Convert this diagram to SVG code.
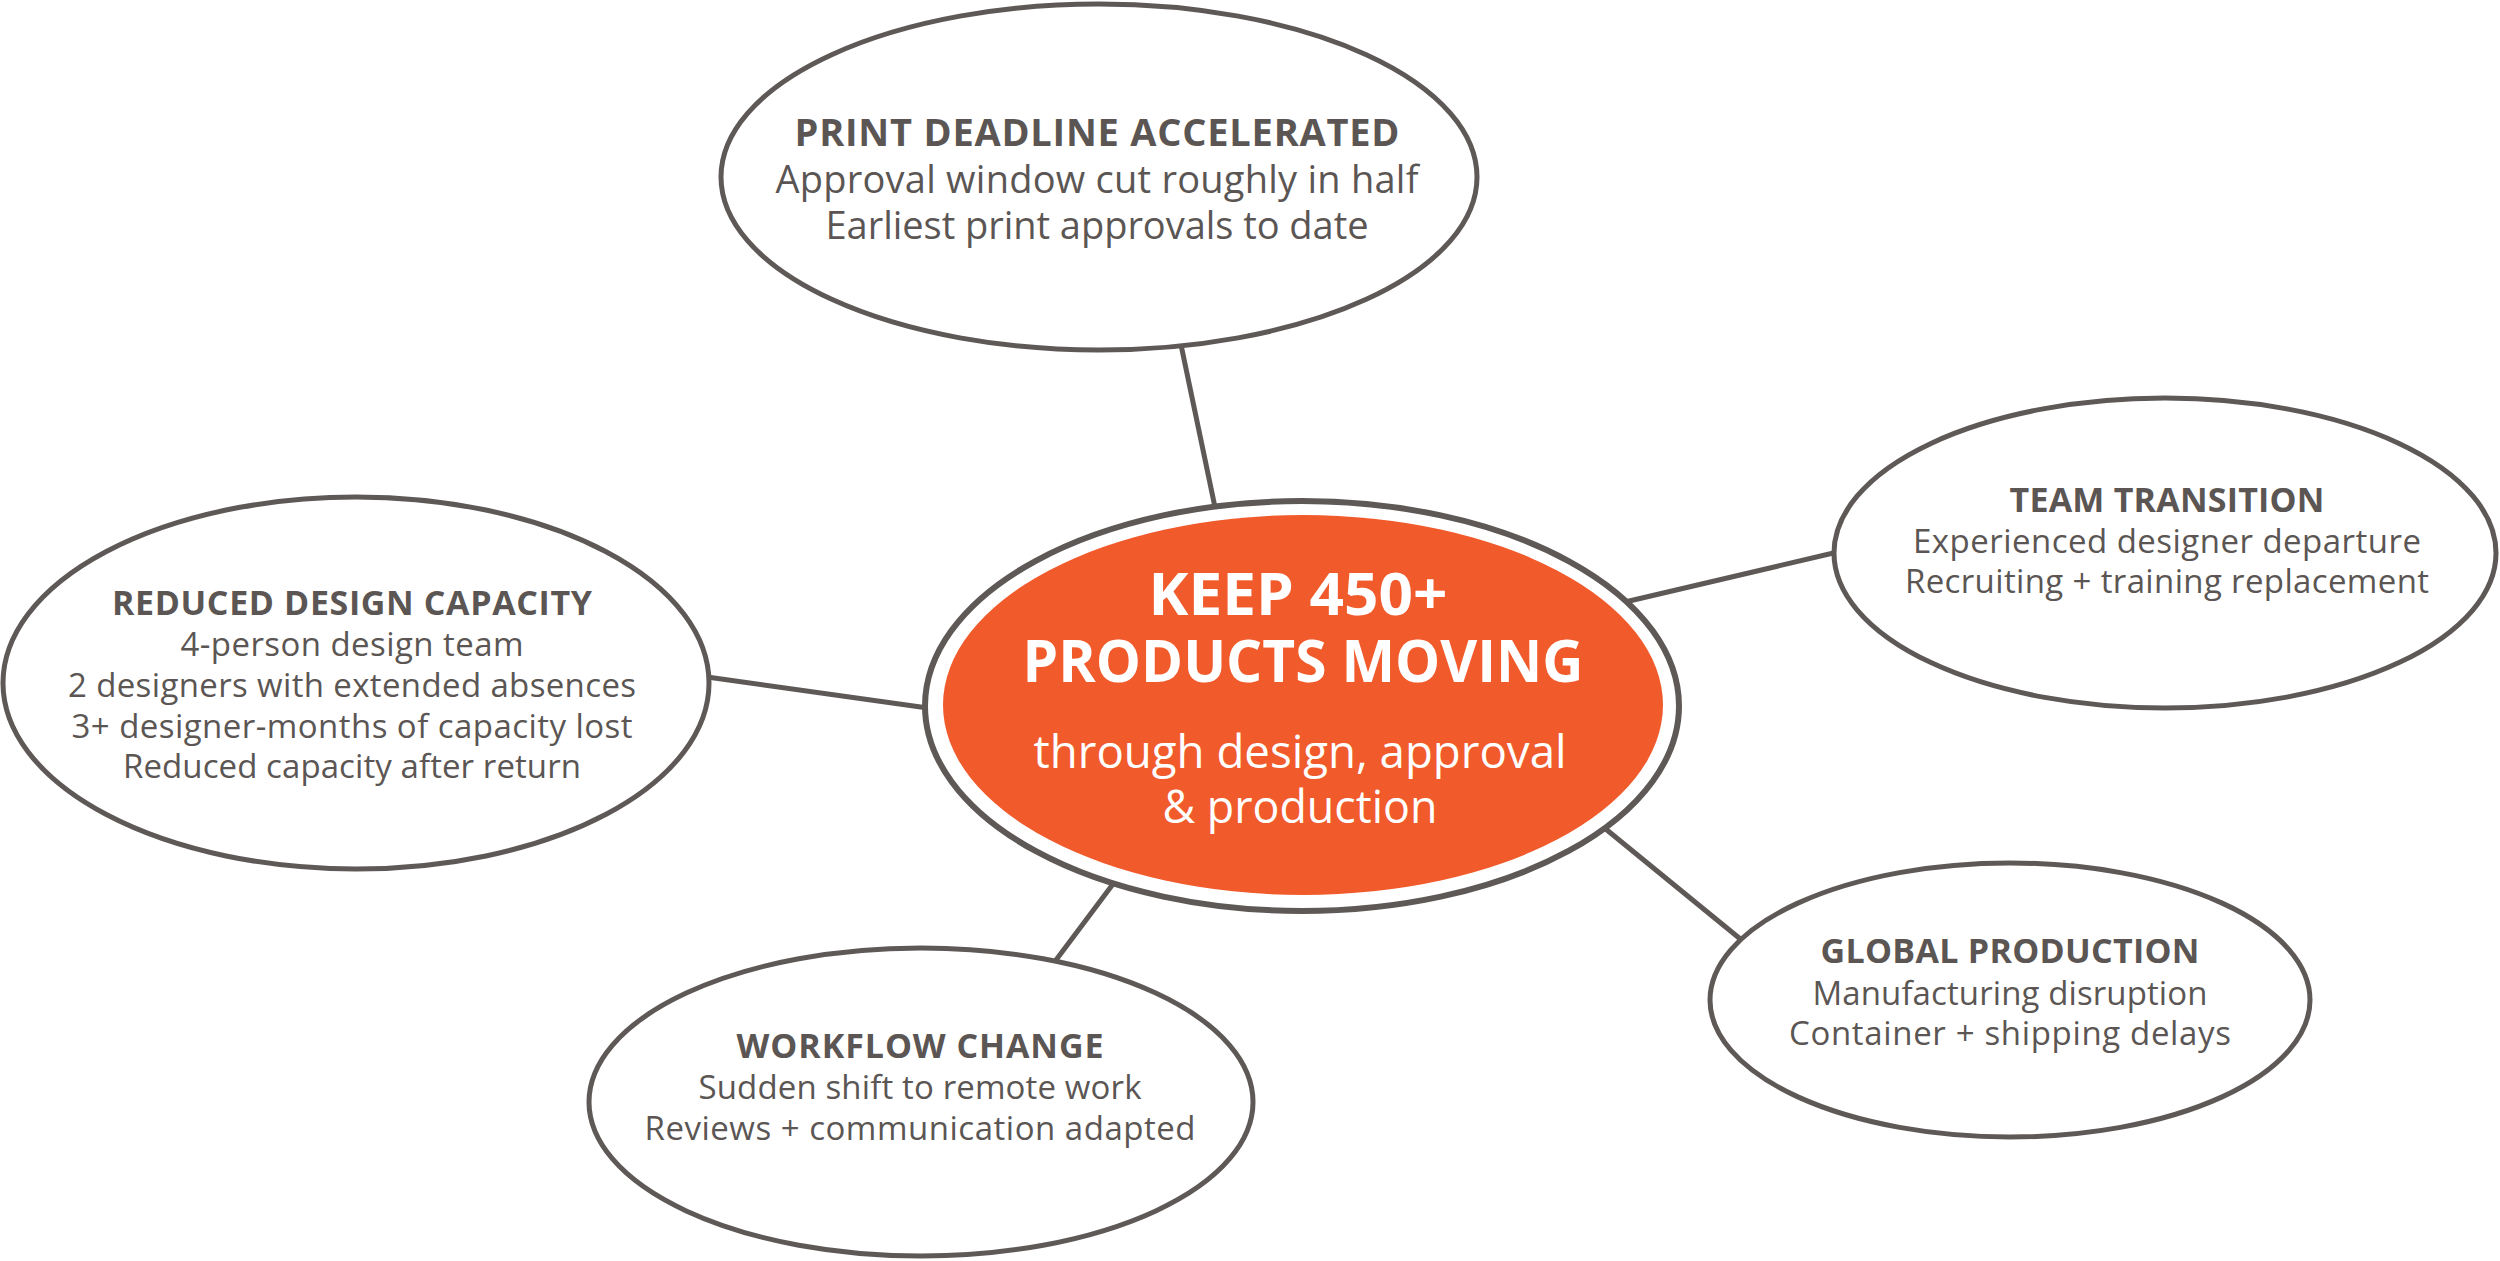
<svg xmlns="http://www.w3.org/2000/svg" width="2500" height="1261" viewBox="0 0 2500 1261">
<style>
.bg{fill:#ffffff}
.node{fill:#ffffff;stroke:#5e5957;stroke-width:5}
.conn{stroke:#5e5957;stroke-width:5;fill:none}
.core{fill:#f15a2b}
text{font-family:"Open Sans","Noto Sans","Liberation Sans",sans-serif;text-anchor:middle;fill:#5b5654}
.h{font-weight:700;font-size:34px}
.b{font-weight:400;font-size:33px}
.ct{font-weight:700;font-size:59px;fill:#ffffff}
.cs{font-weight:400;font-size:46px;fill:#ffffff}
</style>
<rect class="bg" x="0" y="0" width="2500" height="1261"/>
<g id="connectors">
<line class="conn" x1="1180" y1="340" x2="1216" y2="512"/>
<line class="conn" x1="1625" y1="602" x2="1842" y2="551"/>
<line class="conn" x1="700" y1="676" x2="935" y2="709"/>
<line class="conn" x1="1116" y1="880" x2="1050" y2="968"/>
<line class="conn" x1="1602" y1="826" x2="1744" y2="942"/>
</g>
<g id="node-print-deadline">
<ellipse class="node" cx="1099" cy="177" rx="378" ry="173"/>
<text class="h" x="1097" y="146" style="font-size:38px" textLength="605">PRINT DEADLINE ACCELERATED</text>
<text class="b" x="1097" y="193" style="font-size:38px" textLength="643">Approval window cut roughly in half</text>
<text class="b" x="1097" y="239" style="font-size:38px" textLength="543">Earliest print approvals to date</text>
</g>
<g id="node-reduced-capacity">
<ellipse class="node" cx="356" cy="683" rx="353" ry="186"/>
<text class="h" x="352" y="615" textLength="480">REDUCED DESIGN CAPACITY</text>
<text class="b" x="352" y="656" textLength="343">4-person design team</text>
<text class="b" x="352" y="697" textLength="568">2 designers with extended absences</text>
<text class="b" x="352" y="738" textLength="561">3+ designer-months of capacity lost</text>
<text class="b" x="352" y="778" textLength="458">Reduced capacity after return</text>
</g>
<g id="node-team-transition">
<ellipse class="node" cx="2165" cy="553" rx="331" ry="155"/>
<text class="h" x="2167" y="512" textLength="315">TEAM TRANSITION</text>
<text class="b" x="2167" y="553" textLength="508">Experienced designer departure</text>
<text class="b" x="2167" y="593" textLength="524">Recruiting + training replacement</text>
</g>
<g id="node-global-production">
<ellipse class="node" cx="2010" cy="1000" rx="300" ry="137"/>
<text class="h" x="2010" y="963" textLength="379">GLOBAL PRODUCTION</text>
<text class="b" x="2010" y="1005" textLength="395">Manufacturing disruption</text>
<text class="b" x="2010" y="1045" textLength="442">Container + shipping delays</text>
</g>
<g id="node-workflow-change">
<ellipse class="node" cx="921" cy="1102" rx="332" ry="154"/>
<text class="h" x="920" y="1058" textLength="367">WORKFLOW CHANGE</text>
<text class="b" x="920" y="1099" textLength="443">Sudden shift to remote work</text>
<text class="b" x="920" y="1140" textLength="551">Reviews + communication adapted</text>
</g>
<g id="node-center">
<ellipse class="node" cx="1302" cy="706" rx="377" ry="205" style="stroke-width:6"/>
<ellipse class="core" cx="1303" cy="705" rx="360" ry="190"/>
<text class="ct" x="1298" y="615" textLength="299" lengthAdjust="spacingAndGlyphs">KEEP 450+</text>
<text class="ct" x="1303" y="682" textLength="561" lengthAdjust="spacingAndGlyphs">PRODUCTS MOVING</text>
<text class="cs" x="1300" y="768" textLength="533" lengthAdjust="spacingAndGlyphs">through design, approval</text>
<text class="cs" x="1300" y="823" textLength="275" lengthAdjust="spacingAndGlyphs">&amp; production</text>
</g>
</svg>
